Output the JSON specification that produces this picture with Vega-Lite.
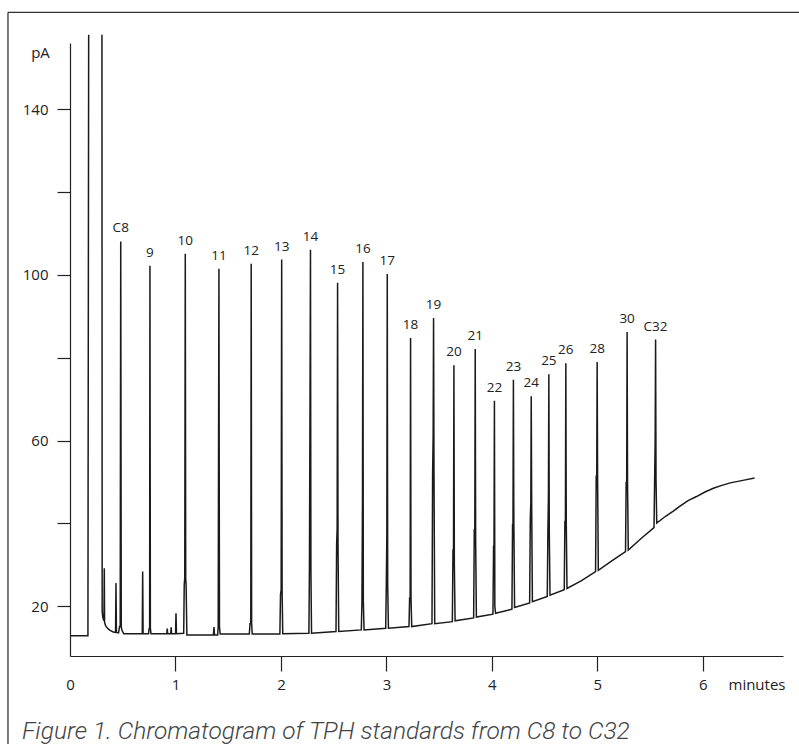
{
  "$schema": "https://vega.github.io/schema/vega-lite/v6.json",
  "autosize": {"type": "none"},
  "padding": {"left": 70, "top": 43, "right": 16, "bottom": 88},
  "width": 713,
  "height": 613,
  "background": "white",
  "config": {"view": {"stroke": null}},
  "title": {
    "text": "Figure 1. Chromatogram of TPH standards from C8 to C32",
    "orient": "bottom", "anchor": "start", "frame": "group",
    "dx": -48, "offset": -9, "baseline": "alphabetic",
    "font": "Roboto", "fontSize": 24.5, "fontWeight": 300, "fontStyle": "italic", "color": "#444"
  },
  "datasets": {
    "signal": [
      {"t":0.0,"v":12.9,"s":1},{"t":0.17,"v":12.9,"s":1},{"t":0.177,"v":158,"s":1},
      {"t":0.303,"v":158,"s":2},{"t":0.305,"v":18.7,"s":2},{"t":0.312,"v":17.2,"s":2},{"t":0.322,"v":16.5,"s":2},{"t":0.325,"v":29.2,"s":2},{"t":0.328,"v":16.0,"s":2},{"t":0.34,"v":15.2,"s":2},{"t":0.36,"v":14.6,"s":2},{"t":0.38,"v":14.2,"s":2},{"t":0.41,"v":13.8,"s":2},{"t":0.432,"v":13.7,"s":2},{"t":0.436,"v":25.6,"s":2},{"t":0.44,"v":13.7,"s":2},{"t":0.46,"v":13.6,"s":2},{"t":0.47,"v":15.1,"s":2},{"t":0.476,"v":15.1,"s":2},{"t":0.481,"v":108.1,"s":2},{"t":0.486,"v":15.1,"s":2},{"t":0.492,"v":14.2,"s":2},{"t":0.51,"v":13.4,"s":2},{"t":0.6,"v":13.4,"s":2},{"t":0.685,"v":13.4,"s":2},{"t":0.689,"v":28.4,"s":2},{"t":0.693,"v":13.4,"s":2},{"t":0.745,"v":13.4,"s":2},{"t":0.75,"v":14.6,"s":2},{"t":0.755,"v":14.6,"s":2},{"t":0.758,"v":102.2,"s":2},{"t":0.762,"v":14.6,"s":2},{"t":0.768,"v":13.4,"s":2},{"t":0.9,"v":13.4,"s":2},{"t":0.918,"v":13.4,"s":2},{"t":0.922,"v":14.6,"s":2},{"t":0.926,"v":13.4,"s":2},{"t":0.955,"v":13.4,"s":2},{"t":0.959,"v":14.9,"s":2},{"t":0.963,"v":13.4,"s":2},{"t":1.001,"v":13.4,"s":2},{"t":1.005,"v":18.3,"s":2},{"t":1.009,"v":13.4,"s":2},{"t":1.078,"v":13.5,"s":2},{"t":1.083,"v":25.2,"s":2},{"t":1.088,"v":26.8,"s":2},{"t":1.093,"v":105.1,"s":2},{"t":1.097,"v":26.8,"s":2},{"t":1.101,"v":25.0,"s":2},{"t":1.108,"v":13.1,"s":2},{"t":1.3,"v":13.1,"s":2},{"t":1.36,"v":13.1,"s":2},{"t":1.365,"v":15.0,"s":2},{"t":1.37,"v":13.1,"s":2},{"t":1.4,"v":13.1,"s":2},{"t":1.405,"v":15.1,"s":2},{"t":1.412,"v":101.5,"s":2},{"t":1.417,"v":15.1,"s":2},{"t":1.424,"v":13.3,"s":2},{"t":1.7,"v":13.3,"s":2},{"t":1.707,"v":15.8,"s":2},{"t":1.714,"v":15.8,"s":2},{"t":1.718,"v":102.7,"s":2},{"t":1.722,"v":15.8,"s":2},{"t":1.728,"v":13.3,"s":2},{"t":1.99,"v":13.3,"s":2},{"t":1.996,"v":22.9,"s":2},{"t":2.002,"v":24.0,"s":2},{"t":2.007,"v":103.7,"s":2},{"t":2.011,"v":24.0,"s":2},{"t":2.017,"v":13.4,"s":2},{"t":2.265,"v":13.5,"s":2},{"t":2.27,"v":28.8,"s":2},{"t":2.276,"v":71.9,"s":2},{"t":2.28,"v":106.1,"s":2},{"t":2.284,"v":28.8,"s":2},{"t":2.29,"v":13.5,"s":2},{"t":2.522,"v":13.9,"s":2},{"t":2.528,"v":34.9,"s":2},{"t":2.533,"v":38.9,"s":2},{"t":2.537,"v":98.1,"s":2},{"t":2.541,"v":34.9,"s":2},{"t":2.548,"v":13.9,"s":2},{"t":2.762,"v":14.3,"s":2},{"t":2.768,"v":21.2,"s":2},{"t":2.773,"v":45.3,"s":2},{"t":2.777,"v":103.1,"s":2},{"t":2.781,"v":21.2,"s":2},{"t":2.788,"v":14.3,"s":2},{"t":2.993,"v":14.7,"s":2},{"t":2.999,"v":25.2,"s":2},{"t":3.004,"v":37.3,"s":2},{"t":3.008,"v":100.2,"s":2},{"t":3.012,"v":25.2,"s":2},{"t":3.019,"v":14.7,"s":2},{"t":3.214,"v":15.1,"s":2},{"t":3.22,"v":22.0,"s":2},{"t":3.225,"v":22.0,"s":2},{"t":3.229,"v":84.8,"s":2},{"t":3.233,"v":22.0,"s":2},{"t":3.24,"v":15.1,"s":2},{"t":3.432,"v":15.8,"s":2},{"t":3.438,"v":52.2,"s":2},{"t":3.443,"v":60.9,"s":2},{"t":3.447,"v":89.6,"s":2},{"t":3.451,"v":52.2,"s":2},{"t":3.458,"v":15.8,"s":2},{"t":3.625,"v":16.3,"s":2},{"t":3.631,"v":33.6,"s":2},{"t":3.636,"v":33.6,"s":2},{"t":3.64,"v":78.2,"s":2},{"t":3.644,"v":30.0,"s":2},{"t":3.651,"v":16.5,"s":2},{"t":3.827,"v":17.2,"s":2},{"t":3.833,"v":38.5,"s":2},{"t":3.838,"v":38.5,"s":2},{"t":3.842,"v":82.1,"s":2},{"t":3.846,"v":36.0,"s":2},{"t":3.853,"v":17.4,"s":2},{"t":4.01,"v":18.1,"s":2},{"t":4.016,"v":34.5,"s":2},{"t":4.02,"v":34.5,"s":2},{"t":4.024,"v":69.6,"s":2},{"t":4.028,"v":20.0,"s":2},{"t":4.035,"v":18.3,"s":2},{"t":4.19,"v":19.3,"s":2},{"t":4.196,"v":39.7,"s":2},{"t":4.2,"v":39.7,"s":2},{"t":4.204,"v":74.7,"s":2},{"t":4.208,"v":41.0,"s":2},{"t":4.215,"v":19.7,"s":2},{"t":4.358,"v":20.8,"s":2},{"t":4.364,"v":41.1,"s":2},{"t":4.369,"v":44.9,"s":2},{"t":4.373,"v":70.7,"s":2},{"t":4.377,"v":44.9,"s":2},{"t":4.384,"v":21.1,"s":2},{"t":4.525,"v":22.4,"s":2},{"t":4.531,"v":38.0,"s":2},{"t":4.536,"v":46.5,"s":2},{"t":4.54,"v":76.0,"s":2},{"t":4.544,"v":38.0,"s":2},{"t":4.551,"v":22.7,"s":2},{"t":4.686,"v":24.0,"s":2},{"t":4.692,"v":40.5,"s":2},{"t":4.697,"v":40.5,"s":2},{"t":4.701,"v":78.7,"s":2},{"t":4.705,"v":40.5,"s":2},{"t":4.712,"v":24.3,"s":2},{"t":4.85,"v":26.2,"s":2},{"t":4.983,"v":28.4,"s":2},{"t":4.989,"v":51.4,"s":2},{"t":4.994,"v":51.4,"s":2},{"t":4.998,"v":79.0,"s":2},{"t":5.002,"v":51.4,"s":2},{"t":5.009,"v":28.7,"s":2},{"t":5.14,"v":31.0,"s":2},{"t":5.267,"v":33.2,"s":2},{"t":5.273,"v":49.8,"s":2},{"t":5.278,"v":49.8,"s":2},{"t":5.282,"v":86.2,"s":2},{"t":5.286,"v":49.8,"s":2},{"t":5.293,"v":33.6,"s":2},{"t":5.42,"v":36.5,"s":2},{"t":5.537,"v":39.0,"s":2},{"t":5.543,"v":50.7,"s":2},{"t":5.548,"v":60.2,"s":2},{"t":5.552,"v":84.4,"s":2},{"t":5.556,"v":50.7,"s":2},{"t":5.563,"v":40.1,"s":2},{"t":5.65,"v":41.8,"s":2},{"t":5.72,"v":43.0,"s":2},{"t":5.78,"v":44.1,"s":2},{"t":5.86,"v":45.5,"s":2},{"t":5.94,"v":46.5,"s":2},{"t":6.02,"v":47.6,"s":2},{"t":6.1,"v":48.5,"s":2},{"t":6.18,"v":49.2,"s":2},{"t":6.26,"v":49.8,"s":2},{"t":6.38,"v":50.4,"s":2},{"t":6.49,"v":51.0,"s":2}
    ],
    "peaks": [
      {"label":"C8","t":0.481,"v":108.1},{"label":"9","t":0.758,"v":102.2},{"label":"10","t":1.093,"v":105.1},{"label":"11","t":1.412,"v":101.5},{"label":"12","t":1.718,"v":102.7},{"label":"13","t":2.007,"v":103.7},{"label":"14","t":2.28,"v":106.1},{"label":"15","t":2.537,"v":98.1},{"label":"16","t":2.777,"v":103.1},{"label":"17","t":3.008,"v":100.2},{"label":"18","t":3.229,"v":84.8},{"label":"19","t":3.447,"v":89.6},{"label":"20","t":3.64,"v":78.2},{"label":"21","t":3.842,"v":82.1},{"label":"22","t":4.024,"v":69.6},{"label":"23","t":4.204,"v":74.7},{"label":"24","t":4.373,"v":70.7},{"label":"25","t":4.54,"v":76.0},{"label":"26","t":4.701,"v":78.7},{"label":"28","t":4.998,"v":79.0},{"label":"30","t":5.282,"v":86.2},{"label":"C32","t":5.552,"v":84.4}
    ],
    "frame": [{}]
  },
  "layer": [
    {
      "data": {"name": "signal"},
      "mark": {"type": "line", "color": "#1a1a1a", "strokeWidth": 1.5, "interpolate": "linear"},
      "encoding": {
        "x": {
          "field": "t", "type": "quantitative",
          "scale": {"domain": [0, 6.76], "nice": false, "zero": false},
          "axis": {
            "values": [0, 1, 2, 3, 4, 5, 6], "format": "d", "grid": false,
            "tickSize": 15, "tickWidth": 1.2, "tickColor": "#222",
            "tickOpacity": {"condition": {"test": "datum.value === 0", "value": 0}, "value": 1},
            "domainColor": "#222", "domainWidth": 1.2,
            "labelFont": "Open Sans", "labelFontSize": 15, "labelColor": "#222", "labelPadding": 6,
            "labelFlush": false,
            "title": "minutes", "titleX": 658, "titleY": 33, "titleAlign": "left", "titleBaseline": "alphabetic",
            "titleFont": "Open Sans", "titleFontSize": 15, "titleFontWeight": "normal", "titleColor": "#222"
          }
        },
        "y": {
          "field": "v", "type": "quantitative",
          "scale": {"domain": [8, 156], "nice": false, "zero": false},
          "axis": {
            "values": [20, 40, 60, 80, 100, 120, 140], "grid": false,
            "labelExpr": "datum.value % 40 == 20 ? datum.label : ''",
            "tickSize": 13, "tickWidth": 1.2, "tickColor": "#222",
            "domainColor": "#222", "domainWidth": 1.2,
            "labelFont": "Open Sans", "labelFontSize": 15, "labelColor": "#222", "labelPadding": 9,
            "title": "pA", "titleAngle": 0, "titleX": -30, "titleY": 9, "titleAlign": "center", "titleBaseline": "middle",
            "titleFont": "Open Sans", "titleFontSize": 15, "titleFontWeight": "normal", "titleColor": "#222"
          }
        },
        "detail": {"field": "s", "type": "nominal"}
      }
    },
    {
      "data": {"name": "peaks"},
      "mark": {"type": "text", "font": "Open Sans", "fontSize": 13.5, "color": "#222", "baseline": "middle", "align": "center", "dy": -13},
      "encoding": {
        "x": {"field": "t", "type": "quantitative"},
        "y": {"field": "v", "type": "quantitative"},
        "text": {"field": "label"}
      }
    },
    {
      "data": {"name": "frame"},
      "mark": {"type": "rule", "color": "#333", "strokeWidth": 1.3, "clip": false},
      "encoding": {"x": {"datum": -0.588}, "x2": {"datum": 6.95}, "y": {"datum": 163.4}}
    },
    {
      "data": {"name": "frame"},
      "mark": {"type": "rule", "color": "#333", "strokeWidth": 1.3, "clip": false},
      "encoding": {"x": {"datum": -0.588}, "y": {"datum": 163.4}, "y2": {"datum": -14}}
    }
  ]
}
